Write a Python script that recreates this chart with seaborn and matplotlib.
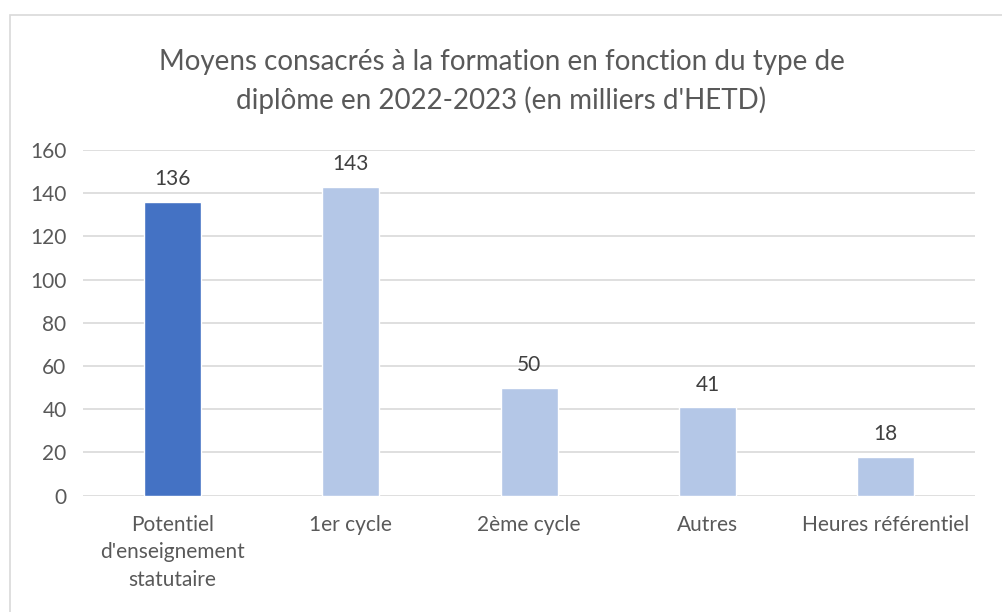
import pandas as pd
import seaborn as sns
import matplotlib.pyplot as plt
from matplotlib.patches import Rectangle

# Data
categories = ["Potentiel\nd'enseignement\nstatutaire", "1er cycle", "2ème cycle", "Autres", "Heures référentiel"]
values = [136, 143, 50, 41, 18]
colors = ["#4472C4", "#B4C7E7", "#B4C7E7", "#B4C7E7", "#B4C7E7"]
yticks = [0, 20, 40, 60, 80, 100, 120, 140, 160]
title = "Moyens consacrés à la formation en fonction du type de\ndiplôme en 2022-2023 (en milliers d'HETD)"

sns.set_theme(style="white")
plt.rcParams['font.family'] = ['Lato', 'DejaVu Sans']
txt = "#595959"

df = pd.DataFrame({'cat': categories, 'val': values})

fig = plt.figure(figsize=(10.03, 6.12), dpi=100)
ax = fig.add_axes([0.083, 0.19, 0.889, 0.565])

sns.barplot(data=df, x='cat', y='val', hue='cat', palette=colors, width=0.32,
            legend=False, ax=ax, saturation=1)

ax.set_ylim(0, 160)
ax.set_yticks(yticks)
ax.yaxis.grid(True, color="#D9D9D9", linewidth=1.2)
ax.set_axisbelow(True)
for s in ax.spines.values():
    s.set_visible(False)
ax.tick_params(axis='both', length=0, colors=txt, labelsize=15)
ax.tick_params(axis='x', pad=14)
ax.tick_params(axis='y', pad=12)
for lbl in ax.get_xticklabels():
    lbl.set_linespacing(1.45)
ax.set_xlabel('')
ax.set_ylabel('')

for i, v in enumerate(values):
    ax.annotate(str(v), (i, v), xytext=(0, 9), textcoords='offset points',
                ha='center', va='bottom', color="#404040", fontsize=15)

fig.text(0.5, 0.867, title, ha='center', va='center', fontsize=20, color=txt,
         linespacing=1.5)

# chart frame
fig.patches.append(Rectangle((10 / 1003, -0.05), 1.1, 1 - 15 / 612 + 0.05,
                             transform=fig.transFigure, fill=False,
                             edgecolor="#D9D9D9", linewidth=1.2))

fig.savefig('out.png', dpi=100)
